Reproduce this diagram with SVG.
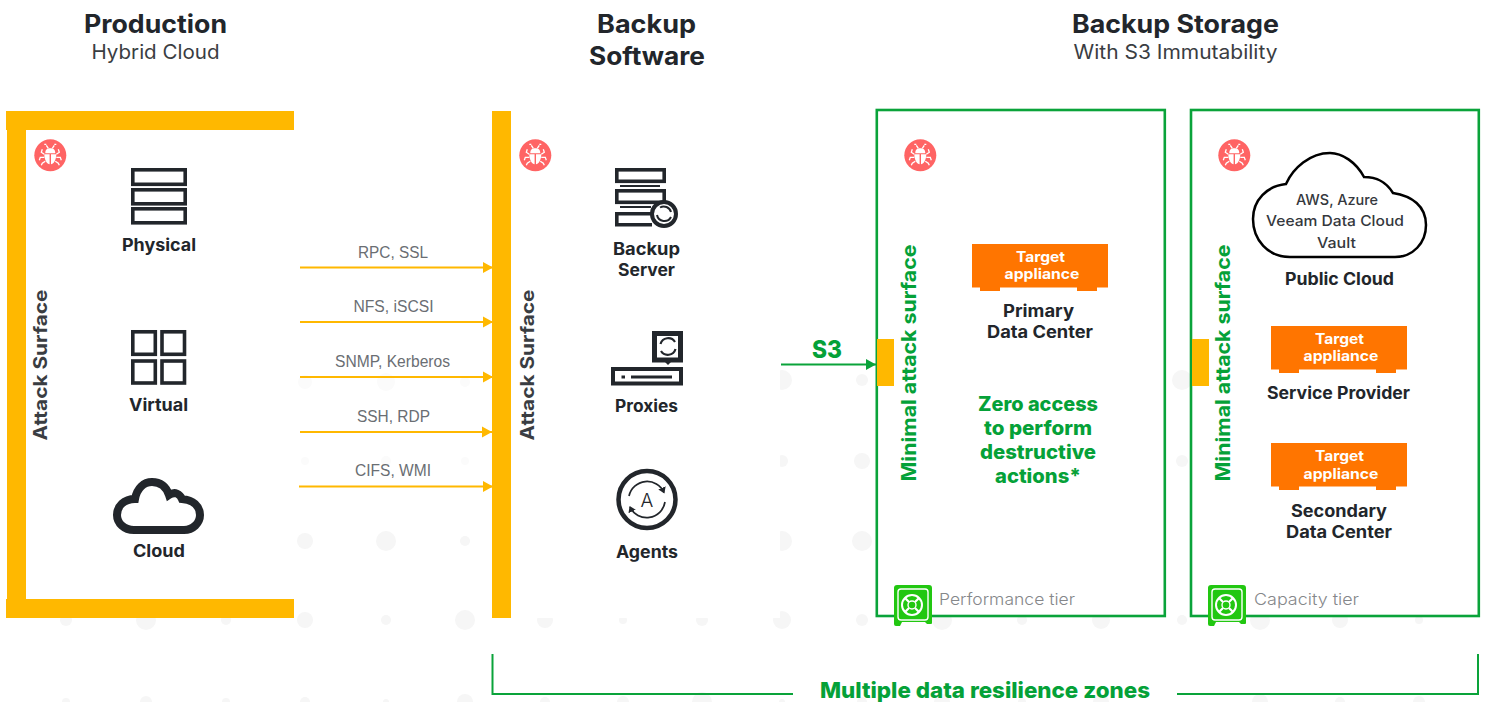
<svg xmlns="http://www.w3.org/2000/svg" width="1489" height="702" viewBox="0 0 1489 702">
<style>
text{font-family:"Inter","Noto Sans","Liberation Sans",sans-serif;fill:#22262b;font-weight:600}
.title{font-size:25px;font-weight:700}
.sub{font-size:20px;font-weight:400;fill:#3a3d42}
.lab{font-size:17px;font-weight:700}
.vert{font-size:18.5px;font-weight:700;fill:#3a3d42}
.proto{font-family:"Liberation Sans",Arial,sans-serif;font-size:16px;font-weight:400;fill:#6a6e73}
.green{fill:#05a138;font-weight:800}
.ta{font-size:14.5px;fill:#fff;font-weight:700}
.cl{font-size:14.5px;font-weight:500;fill:#35383d}
.tier{font-size:16.5px;font-weight:300;fill:#85878a}
.ic{fill:none;stroke:#22262b}
.yb{fill:#ffb800}
.or{fill:#ff7500}
.box{fill:#fff;stroke:#0aa33a;stroke-width:2.6}
.dot{fill:#f6f6f6}
.fnt{fill:#fbfbfb}
.ya{stroke:#ffb800;stroke-width:1.8;fill:none;marker-end:url(#ya)}
.ga{stroke:#0aa33a;stroke-width:2;fill:none}
</style>
<defs>
<marker id="ya" markerUnits="userSpaceOnUse" markerWidth="11" markerHeight="12" refX="10" refY="6" orient="auto"><path d="M0 0.500L10 6L0 11.500Z" fill="#ffb800"/></marker>
<marker id="ga" markerUnits="userSpaceOnUse" markerWidth="11" markerHeight="12" refX="10" refY="6" orient="auto"><path d="M0 0.500L10 6L0 11.500Z" fill="#0aa33a"/></marker>
<marker id="da" markerUnits="userSpaceOnUse" markerWidth="7" markerHeight="8" refX="5" refY="4" orient="auto"><path d="M0 0L6 4L0 8Z" fill="#22262b"/></marker>
<g id="bug">
<circle r="16" fill="#ff6464"/>
<path d="M-5-2C-5-6-3-7 0-7C3-7 5-6 5-2ZM-6-1H6C6 5 3 9 0.700 9V-1H-0.700V9C-3 9-6 5-6-1Z" fill="#fff"/>
<path d="M-4-10L-2-7M4-10L2-7M-6-11H-4M4-11H6M-6-1L-9-3L-8-6M6-1L9-3L8-6M-6 2H-10L-11 5M6 2H10L11 5M-5 6L-8 8L-9 10M5 6L8 8L9 10" fill="none" stroke="#fff" stroke-width="1.300"/>
</g>
<g id="vault">
<path d="M3 0H35Q38 0 38 3V38Q38 39 37 39H33L31 37H8L6 41H2Q0 41 0 39V3Q0 0 3 0Z" fill="#22c711"/>
<rect x="4" y="4" width="30" height="31" rx="3" fill="none" stroke="#fff" stroke-width="1.400"/>
<circle cx="18" cy="20" r="10" fill="none" stroke="#fff" stroke-width="2"/>
<circle cx="18" cy="20" r="4" fill="none" stroke="#fff" stroke-width="1.400"/>
<path d="M11 13L15 17M25 13L21 17M11 27L15 23M25 27L21 23" stroke="#fff" stroke-width="2.200"/>
</g>
<g id="target">
<rect x="0" y="0" width="136" height="43.500" class="or"/>
<rect x="8" y="43" width="20" height="4" class="or"/>
<rect x="105" y="43" width="20" height="4" class="or"/>
</g>
</defs>
<rect width="1489" height="702" fill="#fff"/>
<g id="background">
<g class="fnt"><circle cx="305" cy="382" r="7"/><circle cx="386" cy="382" r="9"/><circle cx="465" cy="382" r="5"/><circle cx="305" cy="461" r="4"/><circle cx="386" cy="461" r="5"/><circle cx="465" cy="461" r="4"/></g>
<g class="dot">
<circle cx="305" cy="541" r="8"/><circle cx="386" cy="541" r="10"/><circle cx="465" cy="541" r="5"/><circle cx="782" cy="380" r="10"/><circle cx="862" cy="380" r="6"/><circle cx="782" cy="461" r="6"/><circle cx="862" cy="461" r="8"/><circle cx="782" cy="541" r="10"/><circle cx="862" cy="541" r="10"/><circle cx="1182" cy="380" r="10"/><circle cx="1182" cy="461" r="6"/>
<circle cx="66" cy="620" r="6"/><circle cx="146" cy="620" r="10"/><circle cx="226" cy="620" r="5"/><circle cx="305" cy="620" r="8"/><circle cx="386" cy="620" r="5"/><circle cx="465" cy="620" r="10"/><circle cx="545" cy="620" r="8"/><circle cx="623" cy="620" r="4"/><circle cx="702" cy="620" r="6"/><circle cx="782" cy="620" r="9"/><circle cx="862" cy="620" r="6"/><circle cx="942" cy="620" r="10"/><circle cx="1022" cy="620" r="5"/><circle cx="1101" cy="620" r="9"/><circle cx="1182" cy="620" r="5"/><circle cx="1260" cy="620" r="10"/><circle cx="1340" cy="620" r="8"/><circle cx="1419" cy="620" r="4"/>
<circle cx="66" cy="702" r="4"/><circle cx="146" cy="702" r="6"/><circle cx="226" cy="702" r="4"/><circle cx="305" cy="702" r="5"/><circle cx="386" cy="702" r="3"/><circle cx="465" cy="702" r="8"/><circle cx="545" cy="702" r="5"/><circle cx="623" cy="702" r="6"/><circle cx="702" cy="702" r="10"/><circle cx="782" cy="702" r="3"/><circle cx="862" cy="702" r="5"/><circle cx="942" cy="702" r="8"/><circle cx="1022" cy="702" r="4"/><circle cx="1101" cy="702" r="8"/><circle cx="1260" cy="702" r="8"/><circle cx="1340" cy="702" r="5"/><circle cx="1419" cy="702" r="6"/>
</g>
<rect x="0" y="111" width="294" height="507" fill="#fff"/>
<rect x="492" y="111" width="288" height="507" fill="#fff"/>
</g>
<g id="titles">
<text class="title" x="84" y="33" textLength="143" lengthAdjust="spacingAndGlyphs">Production</text>
<text class="sub" x="91.500" y="59" textLength="128" lengthAdjust="spacingAndGlyphs">Hybrid Cloud</text>
<text class="title" x="597" y="33" textLength="99" lengthAdjust="spacingAndGlyphs">Backup</text>
<text class="title" x="589" y="64.500" textLength="116" lengthAdjust="spacingAndGlyphs">Software</text>
<text class="title" x="1072" y="33" textLength="207" lengthAdjust="spacingAndGlyphs">Backup Storage</text>
<text class="sub" x="1073.500" y="59" textLength="204" lengthAdjust="spacingAndGlyphs">With S3 Immutability</text>
</g>
<g id="production-zone">
<rect class="yb" x="6" y="111" width="288" height="19"/>
<rect class="yb" x="7" y="130" width="19" height="469"/>
<rect class="yb" x="6" y="599" width="288" height="19"/>
<use href="#bug" x="50.300" y="155.300"/>
<text class="vert" transform="translate(47 440.500) rotate(-90)" textLength="151" lengthAdjust="spacingAndGlyphs">Attack Surface</text>
</g>
<g id="physical">
<g class="ic" stroke-width="3.600"><rect x="132.800" y="169.800" width="52.400" height="14.500"/><rect x="132.800" y="189.800" width="52.400" height="14"/><rect x="132.800" y="208.800" width="52.400" height="14"/></g>
<text class="lab" x="122" y="251" textLength="74" lengthAdjust="spacingAndGlyphs">Physical</text>
</g>
<g id="virtual">
<g class="ic" stroke-width="3.600"><rect x="132.800" y="331.800" width="22.500" height="22.500"/><rect x="162" y="331.800" width="22.500" height="22.500"/><rect x="132.800" y="361" width="22.500" height="22"/><rect x="162" y="361" width="22.500" height="22"/></g>
<text class="lab" x="129" y="411" textLength="59" lengthAdjust="spacingAndGlyphs">Virtual</text>
</g>
<g id="cloud">
<path class="ic" stroke-width="8" d="M134 530H184C193 530 200 523 200 515C200 506 193 500 182 499C180 494 175 491 169 495C166 486 160 482 152 482C144 482 137 488 135 499C124 499 117 506 117 515C117 523 124 530 134 530Z"/>
<text class="lab" x="133" y="557" textLength="52" lengthAdjust="spacingAndGlyphs">Cloud</text>
</g>
<g id="connectors">
<path class="ya" d="M300 267.500H493"/>
<path class="ya" d="M300 322H493"/>
<path class="ya" d="M300 377H493"/>
<path class="ya" d="M300 432H492"/>
<path class="ya" d="M299 486.500H493"/>
<path class="ga" d="M781 364.500H876" marker-end="url(#ga)"/>
<path class="ga" d="M492.500 654V694H793"/>
<path class="ga" d="M1177 694H1478V654"/>
</g>
<g id="protocol-labels">
<text class="proto" x="358" y="257.500" textLength="70" lengthAdjust="spacingAndGlyphs">RPC, SSL</text>
<text class="proto" x="353.500" y="312" textLength="80" lengthAdjust="spacingAndGlyphs">NFS, iSCSI</text>
<text class="proto" x="335" y="367" textLength="115" lengthAdjust="spacingAndGlyphs">SNMP, Kerberos</text>
<text class="proto" x="357" y="421.500" textLength="73" lengthAdjust="spacingAndGlyphs">SSH, RDP</text>
<text class="proto" x="355" y="476" textLength="76" lengthAdjust="spacingAndGlyphs">CIFS, WMI</text>
</g>
<g id="backup-zone">
<rect class="yb" x="492" y="111" width="19" height="507"/>
<use href="#bug" x="535.300" y="155.300"/>
<text class="vert" transform="translate(534 440.500) rotate(-90)" textLength="151" lengthAdjust="spacingAndGlyphs">Attack Surface</text>
</g>
<g id="backup-server">
<g class="ic" stroke-width="3.600"><rect x="616.800" y="169.800" width="47.400" height="11.500"/><rect x="616.800" y="190.800" width="47.400" height="11.500"/><path d="M651 213.800H616.800V224.800H652"/></g>
<path class="ic" stroke-width="2" d="M620 186H660M620 207H651"/>
<circle cx="664" cy="214" r="12" fill="#fff" stroke="#22262b" stroke-width="4"/>
<path class="ic" stroke-width="2" d="M657 215A7.500 7.500 0 0 0 671 217M671 212A7.500 7.500 0 0 0 660 207.500"/>
<text class="lab" x="613" y="255" textLength="67" lengthAdjust="spacingAndGlyphs">Backup</text>
<text class="lab" x="618" y="275.500" textLength="57" lengthAdjust="spacingAndGlyphs">Server</text>
</g>
<g id="proxies">
<rect class="ic" stroke-width="5" x="654.500" y="333.500" width="26" height="26.500"/>
<path d="M664 361H672L668 365Z" fill="#22262b"/>
<path class="ic" stroke-width="2.200" d="M660.500 344A8 8 0 0 1 675 342M675.500 349A8 8 0 0 1 661 351"/>
<rect class="ic" stroke-width="4" x="613" y="369" width="68" height="14.500"/>
<path d="M621.500 375.500H625V378.500H621.500ZM631 375.500H672V378.500H631Z" fill="#22262b"/>
<text class="lab" x="615" y="412" textLength="63" lengthAdjust="spacingAndGlyphs">Proxies</text>
</g>
<g id="agents">
<circle class="ic" stroke-width="4.500" cx="647" cy="499.500" r="28.500"/>
<path class="ic" stroke-width="1.700" d="M629 496A18.500 18.500 0 0 1 664 492.500" marker-end="url(#da)"/>
<path class="ic" stroke-width="1.700" d="M665 502A18.500 18.500 0 0 1 630 507" marker-end="url(#da)"/>
<text x="647" y="507" text-anchor="middle" style="font-size:19px;font-weight:300">A</text>
<text class="lab" x="616" y="557.500" textLength="62" lengthAdjust="spacingAndGlyphs">Agents</text>
</g>
<text id="s3-label" class="green" x="812" y="357.500" style="font-size:24px" textLength="30" lengthAdjust="spacingAndGlyphs">S3</text>
<g id="performance-tier">
<rect class="box" x="876.800" y="110" width="288" height="506"/>
<rect class="yb" x="877" y="339" width="17" height="47"/>
<use href="#bug" x="920.300" y="155.300"/>
<text class="green" transform="translate(916 481.500) rotate(-90)" style="font-size:20px;font-weight:700" textLength="237" lengthAdjust="spacingAndGlyphs">Minimal attack surface</text>
<use href="#target" x="972" y="244"/>
<text class="ta" x="1016" y="262" textLength="49" lengthAdjust="spacingAndGlyphs">Target</text>
<text class="ta" x="1004.500" y="278.500" textLength="75" lengthAdjust="spacingAndGlyphs">appliance</text>
<text class="lab" x="1003" y="317" textLength="71" lengthAdjust="spacingAndGlyphs">Primary</text>
<text class="lab" x="987" y="338" textLength="106" lengthAdjust="spacingAndGlyphs">Data Center</text>
<g style="font-size:20px"><text class="green" x="978" y="411" textLength="120" lengthAdjust="spacingAndGlyphs">Zero access</text>
<text class="green" x="984" y="435" textLength="108" lengthAdjust="spacingAndGlyphs">to perform</text>
<text class="green" x="980" y="459" textLength="116" lengthAdjust="spacingAndGlyphs">destructive</text>
<text class="green" x="995" y="482.500" textLength="86" lengthAdjust="spacingAndGlyphs">actions*</text></g>
<use href="#vault" x="894" y="585"/>
<text class="tier" x="939" y="604.500" textLength="136" lengthAdjust="spacingAndGlyphs">Performance tier</text>
</g>
<g id="capacity-tier">
<rect class="box" x="1191" y="110" width="287.800" height="506"/>
<rect class="yb" x="1192" y="339" width="17" height="47"/>
<use href="#bug" x="1234.300" y="155.300"/>
<text class="green" transform="translate(1230 481.500) rotate(-90)" style="font-size:20px;font-weight:700" textLength="237" lengthAdjust="spacingAndGlyphs">Minimal attack surface</text>
<g id="public-cloud">
<path fill="#fff" stroke="#000" stroke-width="2.500" d="M1290 257H1395C1413 257 1426 243 1426 225C1426 206 1412 196 1393 193C1385 180 1375 177 1364 177C1356 162 1342 153 1330 153C1310 153 1293 168 1286 184C1267 186 1253 200 1253 219C1253 240 1268 257 1290 257Z"/>
<text class="cl" x="1296" y="204.500" textLength="82" lengthAdjust="spacingAndGlyphs">AWS, Azure</text>
<text class="cl" x="1266" y="226" textLength="138" lengthAdjust="spacingAndGlyphs">Veeam Data Cloud</text>
<text class="cl" x="1317" y="248" textLength="39" lengthAdjust="spacingAndGlyphs">Vault</text>
<text class="lab" x="1285" y="284.500" textLength="109" lengthAdjust="spacingAndGlyphs">Public Cloud</text>
</g>
<g id="service-provider">
<use href="#target" x="1271" y="326"/>
<text class="ta" x="1315" y="344" textLength="49" lengthAdjust="spacingAndGlyphs">Target</text>
<text class="ta" x="1303.500" y="361" textLength="75" lengthAdjust="spacingAndGlyphs">appliance</text>
<text class="lab" x="1267" y="399" textLength="143" lengthAdjust="spacingAndGlyphs">Service Provider</text>
</g>
<g id="secondary-dc">
<use href="#target" x="1271" y="443"/>
<text class="ta" x="1315" y="461" textLength="49" lengthAdjust="spacingAndGlyphs">Target</text>
<text class="ta" x="1303.500" y="478.500" textLength="75" lengthAdjust="spacingAndGlyphs">appliance</text>
<text class="lab" x="1291" y="517" textLength="96" lengthAdjust="spacingAndGlyphs">Secondary</text>
<text class="lab" x="1286" y="537.500" textLength="106" lengthAdjust="spacingAndGlyphs">Data Center</text>
</g>
<use href="#vault" x="1208" y="585"/>
<text class="tier" x="1254" y="604.500" textLength="105" lengthAdjust="spacingAndGlyphs">Capacity tier</text>
</g>
<text id="resilience-label" class="green" x="820" y="698" style="font-size:22px" textLength="330" lengthAdjust="spacingAndGlyphs">Multiple data resilience zones</text>
</svg>
